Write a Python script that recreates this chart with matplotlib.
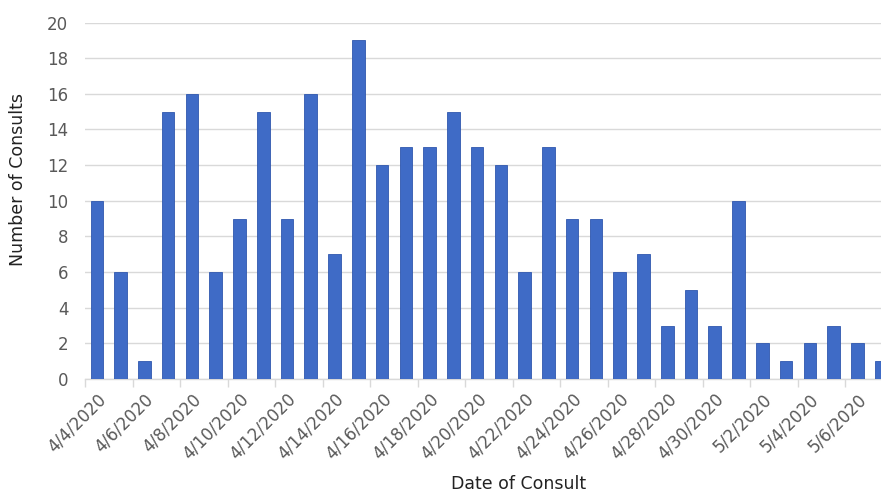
import matplotlib
matplotlib.use("Agg")
import matplotlib.pyplot as plt
import numpy as np
from datetime import date, timedelta

start = date(2020, 4, 4)
counts = [10, 6, 1, 15, 16, 6, 9, 15, 9, 16, 7, 19, 12, 13, 13, 15, 13, 12,
          6, 13, 9, 9, 6, 7, 3, 5, 3, 10, 2, 1, 2, 3, 2, 1]
dates = [start + timedelta(days=i) for i in range(len(counts))]
labels = [f"{d.month}/{d.day}/{d.year}" for d in dates]
yticks = list(range(0, 21, 2))

plt.rcParams['font.family'] = ['DejaVu Sans']

W, H = 881, 493
fig = plt.figure(figsize=(W / 100, H / 100), dpi=100)
left, right, top, bottom = 85, 893, 22.5, 379
ax = fig.add_axes([left / W, 1 - bottom / H, (right - left) / W, (bottom - top) / H])

x = np.arange(len(counts))
ax.bar(x, counts, width=0.53, color='#3F6BC6', edgecolor='#2F57AE', linewidth=0.6, zorder=3)

ax.set_xlim(-0.5, len(counts) - 0.5)
ax.set_ylim(0, 20)
ax.set_yticks(yticks)
ax.tick_params(axis='y', length=0, pad=12, labelsize=12, labelcolor='#595959')
ax.yaxis.grid(True, color='#D9D9D9', linewidth=1.0, zorder=0)

ax.set_xticks(x[::2])
ax.set_xticklabels(labels[::2], rotation=45, ha='right', va='top',
                   rotation_mode='anchor', fontsize=12, color='#595959')
ax.tick_params(axis='x', which='major', length=0, pad=8)
ax.set_xticks(np.arange(-0.5, len(counts), 2), minor=True)
ax.tick_params(axis='x', which='minor', length=6, color='#D9D9D9', width=1)

for s in ['top', 'right', 'left']:
    ax.spines[s].set_visible(False)
ax.spines['bottom'].set_color('#D9D9D9')
ax.spines['bottom'].set_linewidth(1)

fig.text(519 / W, 1 - 484 / H, 'Date of Consult', ha='center', va='center',
         fontsize=12.5, color='#222222')
fig.text(18 / W, 1 - 180 / H, 'Number of Consults', ha='center', va='center',
         rotation=90, fontsize=12.5, color='#222222')

fig.savefig('out.png', dpi=100)
